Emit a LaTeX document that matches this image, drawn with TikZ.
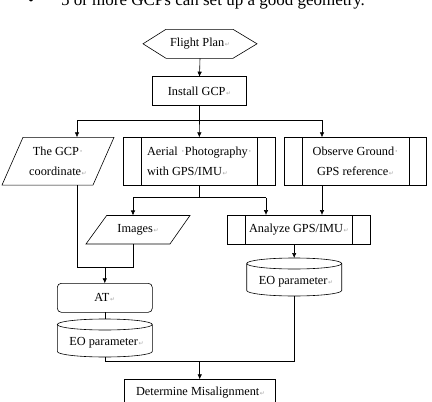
\documentclass[tikz,border=0pt]{standalone}
\usepackage{fontspec}
\setmainfont{Liberation Serif}
\newfontfamily\symfam{DejaVu Sans}
\usetikzlibrary{arrows.meta}
\newcommand{\retmk}{\kern0.6pt{\symfam\fontsize{6}{6}\selectfont\color{gray!70}↵}}
\newcommand{\spmk}{{\color{gray!70}·}}
\begin{document}
\begin{tikzpicture}[x=1pt,y=-1pt,
  base/.style={outer sep=0pt, inner sep=0pt, font=\fontsize{12.3}{19.5}\selectfont, align=center},
  box/.style={base, draw, line width=0.6pt},
  ln/.style={line width=0.6pt},
  arr/.style={ln, -{Latex[length=5pt,width=4.5pt]}}
]
\useasboundingbox (0,0) rectangle (432,402);
\clip (0,0) rectangle (432,402);

% top cut-off bullet line
\node[base, anchor=base west, font=\fontsize{17}{17}\selectfont] (bul) at (28,5) {•};
\node[base, anchor=base west, font=\fontsize{17}{17}\selectfont] (top) at (61,5) {5 or more GCPs can set up a good geometry.};

% nodes
\node[base, minimum width=114, minimum height=29] (fp) at (200,43.8) {Flight Plan\retmk};
\draw[ln] (fp.west) -- ([xshift=23pt]fp.north west) -- ([xshift=-24pt]fp.north east) -- (fp.east) -- ([xshift=-24pt]fp.south east) -- ([xshift=23pt]fp.south west) -- cycle;

\node[box, minimum width=94.4, minimum height=29] (ig) at (199.5,91.2) {Install GCP\retmk};

\node[base, minimum width=112, minimum height=47.7] (gcp) at (58,161.2) {The GCP\spmk\\coordinate\retmk};
\draw[ln] ([xshift=21pt]gcp.north west) -- (gcp.north east) -- ([xshift=-21pt]gcp.south east) -- (gcp.south west) -- cycle;

\node[box, minimum width=152, minimum height=47.7] (aer) at (199.3,161.2) {};
\node[base, align=left] (aert) at (199.5,161.5) {Aerial \spmk{}Photography\spmk\\with GPS/IMU\retmk};
\draw[ln] ([xshift=18.4pt]aer.north west) -- ([xshift=18.4pt]aer.south west);
\draw[ln] ([xshift=-18pt]aer.north east) -- ([xshift=-18pt]aer.south east);

\node[box, minimum width=142.4, minimum height=47.7] (obs) at (355.5,161.2) {Observe Ground\spmk\\GPS reference\retmk};
\draw[ln] ([xshift=18pt]obs.north west) -- ([xshift=18pt]obs.south west);
\draw[ln] ([xshift=-17.4pt]obs.north east) -- ([xshift=-17.4pt]obs.south east);

\node[base, minimum width=104, minimum height=28.5] (img) at (138,229.7) {Images\retmk};
\draw[ln] ([xshift=20.7pt]img.north west) -- (img.north east) -- ([xshift=-20pt]img.south east) -- (img.south west) -- cycle;

\node[box, minimum width=142.3, minimum height=29] (ana) at (298.8,229.5) {Analyze GPS/IMU\retmk};
\draw[ln] ([xshift=18pt]ana.north west) -- ([xshift=18pt]ana.south west);
\draw[ln] ([xshift=-17.3pt]ana.north east) -- ([xshift=-17.3pt]ana.south east);

\node[base, minimum width=95, minimum height=38] (eo2) at (294.2,277) {};
\node[base] (eo2t) at (296,282) {EO parameter\retmk};
\draw[ln] ([yshift=-5.5pt]eo2.north) ellipse [x radius=47.5pt, y radius=5.5pt];
\draw[ln] ([yshift=-5.5pt]eo2.north west) -- ([yshift=5.5pt]eo2.south west)
  arc[start angle=180, end angle=360, x radius=47.5pt, y radius=5.5pt] -- ([yshift=-5.5pt]eo2.north east);

\node[box, rounded corners=4pt, minimum width=95, minimum height=29] (at) at (104.8,297.8) {AT\retmk};

\node[base, minimum width=95, minimum height=38] (eo1) at (104.8,338) {};
\node[base] (eo1t) at (106.5,343) {EO parameter\retmk};
\draw[ln] ([yshift=-5.5pt]eo1.north) ellipse [x radius=47.5pt, y radius=5.5pt];
\draw[ln] ([yshift=-5.5pt]eo1.north west) -- ([yshift=5.5pt]eo1.south west)
  arc[start angle=180, end angle=360, x radius=47.5pt, y radius=5.5pt] -- ([yshift=-5.5pt]eo1.north east);

\node[box, minimum width=151.3, minimum height=40, text depth=0pt] (dm) at (199.7,399.3) {};
\node[base] (dmt) at (200.5,392.5) {Determine Misalignment\retmk};

% junction coordinates
\coordinate (b1) at (77,120);
\coordinate (b2) at (199.5,120);
\coordinate (b3) at (322,120);
\coordinate (c1) at (133,197.7);
\coordinate (c2) at (266,197.7);
\coordinate (m1) at (77,267);
\coordinate (m2) at (133,267);
\coordinate (e1) at (104.8,361.7);
\coordinate (e2) at (294.2,361.7);

% connectors
\draw[arr] (fp.south) -- (ig.north);
\draw[ln] (ig.south) -- (b2);
\draw[ln] (b1) -- (b3);
\draw[arr] (b1) -- (b1 |- gcp.north);
\draw[arr] (b2) -- (aer.north);
\draw[arr] (b3) -- (b3 |- obs.north);

\draw[ln] (aer.south) -- (aer.south |- c1);
\draw[ln] (c1) -- (c2);
\draw[arr] (c1) -- (c1 |- img.north);
\draw[arr] (c2) -- (c2 |- ana.north);
\draw[arr] (b3 |- obs.south) -- (b3 |- ana.north);

\draw[arr] (eo2.north |- ana.south) -- (eo2.north);

\draw[ln] (b1 |- gcp.south) -- (m1) -- (m2) -- (m2 |- img.south);
\draw[arr] (m1 -| at.north) -- (at.north);
\draw[ln] (at.south) -- (eo1.north);

\draw[ln] (eo1.south) -- (e1) -- (e2) -- (eo2.south);
\draw[arr] (e1 -| dm.north) -- (dm.north);
\end{tikzpicture}
\end{document}
